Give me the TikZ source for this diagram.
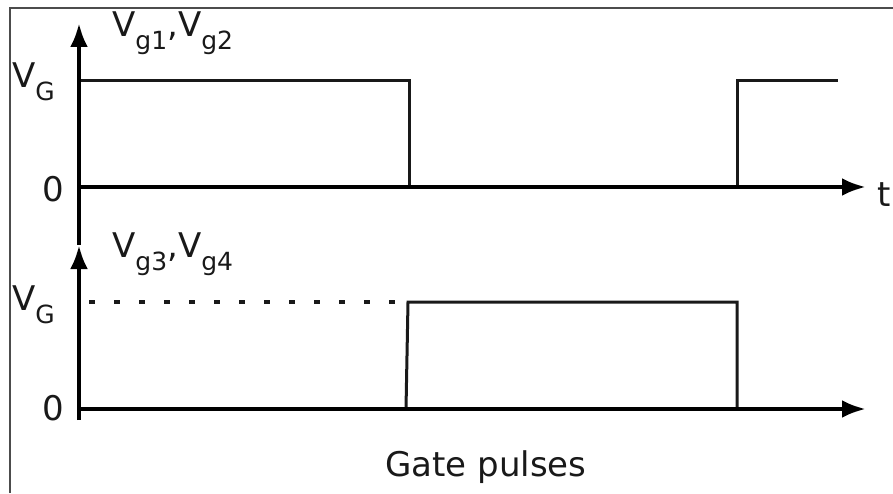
\documentclass[tikz,border=0pt]{standalone}
\usepackage{fontspec}
\setmainfont{DejaVu Sans}
\usetikzlibrary{arrows.meta,positioning}
\newcommand{\lowsub}[1]{\raisebox{-13pt}{\fontsize{25}{25}\selectfont #1}}
\tikzset{
    axis/.style = {line width=4.5pt, -{Latex[length=24pt,width=18pt]}},
    pulse/.style = {line width=3pt, black!90},
    level/.style = {line width=4pt, dash pattern=on 6pt off 19pt, black!90},
    lbl/.style = {inner sep=0pt, font=\fontsize{34}{34}\selectfont, text=black!90},
    frame/.style = {line width=1.5pt, black!70}
}

\begin{document}
\begin{tikzpicture}[x=1pt, y=1pt]
    \useasboundingbox (0,0) rectangle (893,493);
    \draw[frame] (10,0) -- (10,485) -- (893,485);

    % upper plot: Vg1, Vg2
    \coordinate (o1) at (79,306);
    \coordinate (y1) at (79,470);
    \coordinate (x1) at (866,306);
    \coordinate (a1) at (79,412);
    \coordinate (b1) at (409,412);
    \coordinate (c1) at (409,306);
    \coordinate (d1) at (737,306);
    \coordinate (e1) at (737,412);
    \coordinate (f1) at (838,412);

    % lower plot: Vg3, Vg4
    \coordinate (o2) at (79,84);
    \coordinate (y2) at (79,248);
    \coordinate (x2) at (866,84);
    \coordinate (a2) at (89,191);
    \coordinate (b2) at (406,84);
    \coordinate (c2) at (408,191);
    \coordinate (d2) at (737,191);
    \coordinate (e2) at (737,84);

    \draw[pulse] (a1) -- (b1) -- (c1);
    \draw[pulse] (d1) -- (e1) -- (f1);
    \draw[level] (a2) -- (c2);
    \draw[pulse] (b2) -- (c2) -- (d2) -- (e2);

    \draw[axis] (o1) -- (x1);
    \draw[axis] (y2) -- (y1);
    \draw[axis] (o2) -- (x2);
    \draw[axis] (79,73) -- (y2);

    \node[lbl, anchor=base west] (vg12) at (112,456) {V\lowsub{g1},V\lowsub{g2}};
    \node[lbl, anchor=base west] (vgu) at (12,405) {V\lowsub{G}};
    \node[lbl, anchor=base east] (zu) at (64,291) {0};
    \node[lbl, anchor=base west] (t) at (877,286) {t};

    \node[lbl, anchor=base west] (vg34) at (112,236) {V\lowsub{g3},V\lowsub{g4}};
    \node[lbl, anchor=base west] (vgl) at (12,183) {V\lowsub{G}};
    \node[lbl, anchor=base east] (zl) at (64,73) {0};

    \node[lbl, anchor=base] (cap) at (486,17) {Gate pulses};
\end{tikzpicture}
\end{document}
